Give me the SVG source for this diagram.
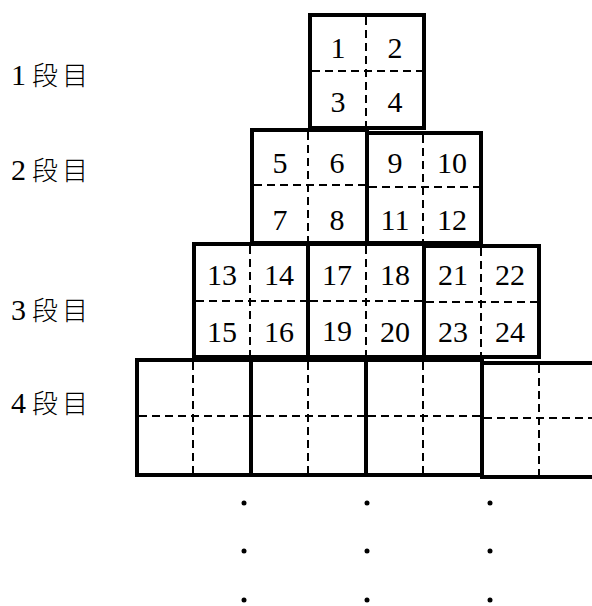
<svg xmlns="http://www.w3.org/2000/svg" width="592" height="606" viewBox="0 0 592 606">
<style>
.sq{fill:none;stroke:#000;stroke-width:4;stroke-linejoin:miter}
.ds{fill:none;stroke:#000;stroke-width:2;stroke-dasharray:8 5}
.n{font-family:"Liberation Serif","Noto Sans CJK JP",serif;font-size:30px;text-anchor:middle;fill:#000}
.lb{font-family:"Liberation Serif","Noto Sans CJK JP",serif;font-size:30px;fill:#000}
.k{font-family:"Noto Sans CJK JP","Liberation Serif",serif;font-size:26px;font-weight:300}
</style>
<rect width="592" height="606" fill="#fff"/>
<g id="labels">
<text class="lb" y="85"><tspan x="11">1</tspan><tspan class="k" x="32">段</tspan><tspan class="k" x="62">目</tspan></text>
<text class="lb" y="180"><tspan x="11">2</tspan><tspan class="k" x="32">段</tspan><tspan class="k" x="62">目</tspan></text>
<text class="lb" y="320"><tspan x="11">3</tspan><tspan class="k" x="32">段</tspan><tspan class="k" x="62">目</tspan></text>
<text class="lb" y="413"><tspan x="11">4</tspan><tspan class="k" x="32">段</tspan><tspan class="k" x="62">目</tspan></text>
</g>
<g id="row1">
<g id="sq1">
<rect class="sq" x="310" y="15" width="114" height="113"/>
<line class="ds" x1="366" y1="17" x2="366" y2="126"/>
<line class="ds" x1="312" y1="71" x2="422" y2="71"/>
<text class="n" x="338" y="58">1</text><text class="n" x="395" y="58">2</text>
<text class="n" x="338" y="112">3</text><text class="n" x="395" y="112">4</text>
</g>
</g>
<g id="row2">
<g id="sq2">
<rect class="sq" x="252" y="130" width="115" height="113"/>
<line class="ds" x1="308" y1="132" x2="308" y2="241"/>
<line class="ds" x1="254" y1="185" x2="365" y2="185"/>
<text class="n" x="280" y="173">5</text><text class="n" x="337" y="173">6</text>
<text class="n" x="280" y="230">7</text><text class="n" x="337" y="230">8</text>
</g>
<g id="sq3">
<rect class="sq" x="367" y="133" width="114" height="110"/>
<line class="ds" x1="423" y1="135" x2="423" y2="241"/>
<line class="ds" x1="369" y1="187" x2="479" y2="187"/>
<text class="n" x="395" y="173">9</text><text class="n" x="452" y="173">10</text>
<text class="n" x="395" y="230">11</text><text class="n" x="452" y="230">12</text>
</g>
</g>
<g id="row3">
<g id="sq4">
<rect class="sq" x="194" y="244" width="114" height="113"/>
<line class="ds" x1="250" y1="246" x2="250" y2="355"/>
<line class="ds" x1="196" y1="301" x2="306" y2="301"/>
<text class="n" x="222" y="285">13</text><text class="n" x="279" y="285">14</text>
<text class="n" x="222" y="342">15</text><text class="n" x="279" y="342">16</text>
</g>
<g id="sq5">
<rect class="sq" x="308" y="244" width="116" height="113"/>
<line class="ds" x1="366" y1="246" x2="366" y2="355"/>
<line class="ds" x1="310" y1="301" x2="422" y2="301"/>
<text class="n" x="337" y="285">17</text><text class="n" x="395" y="285">18</text>
<text class="n" x="337" y="341">19</text><text class="n" x="395" y="342">20</text>
</g>
<g id="sq6">
<rect class="sq" x="424" y="246" width="115" height="111"/>
<line class="ds" x1="481" y1="248" x2="481" y2="355"/>
<line class="ds" x1="426" y1="302" x2="537" y2="302"/>
<text class="n" x="453" y="285">21</text><text class="n" x="510" y="285">22</text>
<text class="n" x="453" y="342">23</text><text class="n" x="510" y="342">24</text>
</g>
</g>
<g id="row4">
<g id="sq7">
<rect class="sq" x="137" y="360" width="114" height="115"/>
<line class="ds" x1="193" y1="362" x2="193" y2="473"/>
<line class="ds" x1="139" y1="416" x2="249" y2="416"/>
</g>
<g id="sq8">
<rect class="sq" x="251" y="360" width="115" height="115"/>
<line class="ds" x1="308" y1="362" x2="308" y2="473"/>
<line class="ds" x1="253" y1="416" x2="364" y2="416"/>
</g>
<g id="sq9">
<rect class="sq" x="366" y="360" width="116" height="115"/>
<line class="ds" x1="423" y1="362" x2="423" y2="473"/>
<line class="ds" x1="368" y1="416" x2="480" y2="416"/>
</g>
<g id="sq10">
<rect class="sq" x="482" y="363" width="118" height="114"/>
<line class="ds" x1="539" y1="365" x2="539" y2="475"/>
<line class="ds" x1="484" y1="418" x2="598" y2="418"/>
</g>
</g>
<g id="dots" fill="#000">
<circle cx="244" cy="503" r="2.5"/><circle cx="367" cy="503" r="2.5"/><circle cx="490" cy="503" r="2.5"/>
<circle cx="244" cy="551" r="2.5"/><circle cx="367" cy="551" r="2.5"/><circle cx="490" cy="551" r="2.5"/>
<circle cx="244" cy="600" r="2.5"/><circle cx="367" cy="600" r="2.5"/><circle cx="490" cy="600" r="2.5"/>
</g>
</svg>
